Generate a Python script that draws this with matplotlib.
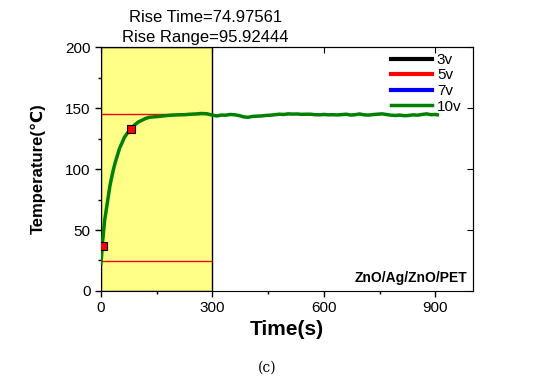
import matplotlib.pyplot as plt
from matplotlib.ticker import MultipleLocator

plt.rcParams['font.family'] = ['Liberation Sans', 'DejaVu Sans']

# measured heating curve (10 V)
time_s = [0, 2, 4, 6, 8, 10, 13, 16, 20, 24, 28, 33, 38, 44, 50, 56, 63, 70,
          80, 90, 100, 110, 120, 130, 140, 150, 165, 180, 195, 210, 225, 240,
          255, 270, 285, 300,
          312, 324, 336, 348, 360, 372, 384, 396, 408, 420, 432, 444, 456,
          468, 480, 492, 504, 516, 528, 540, 552, 564, 576, 588, 600, 612,
          624, 636, 648, 660, 672, 684, 696, 708, 720, 732, 744, 756, 768,
          780, 792, 804, 816, 828, 840, 852, 864, 876, 888, 900, 905]
temp_10v = [23, 30, 40, 45, 52, 58, 64, 70, 78, 86, 92, 99, 105, 111, 117,
            121, 126, 129, 133, 136, 138.5, 140, 141.5, 142.5, 142.8, 143,
            143.5, 144, 144.3, 144.5, 144.6, 145, 145.2, 145.6, 145.4, 144.2,
            143.6, 144.3, 144.2, 144.8, 144.5, 143.9, 142.8, 142.5, 143.2,
            143.4, 143.6, 144.0, 144.2, 144.6, 145.0, 144.8, 145.3, 145.1,
            145.2, 144.9, 145.0, 145.0, 144.6, 144.5, 144.8, 144.5, 144.6,
            144.4, 144.7, 145.0, 144.3, 144.6, 145.2, 144.5, 144.3, 144.7,
            145.0, 145.3, 144.8, 144.2, 144.0, 144.3, 143.8, 144.0, 144.5,
            144.2, 144.8, 145.3, 144.6, 144.8, 144.5]

# rise analysis
rise_window = (0, 300)
t_low, t_high = 24.3, 144.8
marker_t = [6, 80]
marker_T = [37, 132.5]
rise_time = 74.97561
rise_range = 95.92444

fig = plt.figure(figsize=(5.37, 3.9), dpi=100)
ax = fig.add_axes([0.188, 0.254, 0.692, 0.625])

ax.axvspan(rise_window[0], rise_window[1], facecolor='#ffff88',
           edgecolor='black', linewidth=1, zorder=0)
ax.hlines([t_low, t_high], rise_window[0], rise_window[1], colors='red',
          linewidth=1, zorder=2)

ax.plot([], [], color='black', lw=3, label='3v')
ax.plot([], [], color='red', lw=3, label='5v')
ax.plot([], [], color='blue', lw=3, label='7v')
ax.plot(time_s, temp_10v, color='green', lw=2.5, label='10v', zorder=3)
ax.plot(marker_t, marker_T, 's', ms=6, mfc='red', mec='black', mew=0.8,
        zorder=4)

ax.set_xlim(0, 1000)
ax.set_ylim(0, 200)
ax.xaxis.set_major_locator(MultipleLocator(300))
ax.xaxis.set_minor_locator(MultipleLocator(150))
ax.yaxis.set_major_locator(MultipleLocator(50))
ax.yaxis.set_minor_locator(MultipleLocator(25))
ax.tick_params(which='both', direction='out', labelsize=11, width=1)
ax.tick_params(which='major', length=4)
ax.tick_params(which='minor', length=2)
sec_x = ax.secondary_xaxis('top')
sec_x.set_xticks([0, 300, 600, 900])
sec_x.tick_params(direction='in', labeltop=False, length=4)
sec_y = ax.secondary_yaxis('right')
sec_y.set_yticks([0, 50, 100, 150, 200])
sec_y.tick_params(direction='in', labelright=False, length=4)

ax.set_xlabel('Time(s)', fontsize=15, fontweight='bold', labelpad=3)
ax.set_ylabel('Temperature(℃)', fontsize=12, fontweight='bold', labelpad=14)

ax.text(0.985, 0.025, 'ZnO/Ag/ZnO/PET', transform=ax.transAxes,
        ha='right', va='bottom', fontsize=10, fontweight='bold')
ax.legend(loc='upper right', bbox_to_anchor=(0.995, 1.014), frameon=False,
          handlelength=2.7, handletextpad=0.3, fontsize=11,
          labelspacing=0.1, borderaxespad=0.2)

fig.text(0.382, 0.955, 'Rise Time=%.5f' % rise_time, ha='center',
         va='center', fontsize=12)
fig.text(0.382, 0.905, 'Rise Range=%.5f' % rise_range, ha='center',
         va='center', fontsize=12)
fig.text(0.497, 0.056, '(c)', ha='center', va='center', fontsize=10,
         family='DejaVu Serif')

fig.savefig('out.png', dpi=100)
